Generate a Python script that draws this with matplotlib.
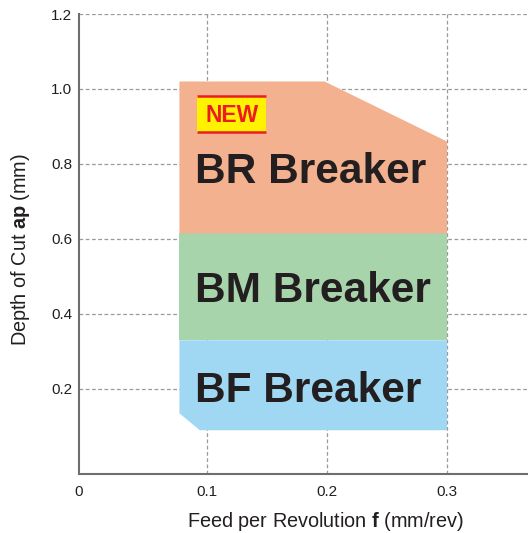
import matplotlib
matplotlib.use("Agg")
import matplotlib.pyplot as plt
from matplotlib.patches import Rectangle

plt.rcParams['font.family'] = ['Liberation Sans', 'DejaVu Sans']
plt.rcParams['mathtext.fontset'] = 'custom'
plt.rcParams['mathtext.rm'] = 'Liberation Sans'
plt.rcParams['mathtext.bf'] = 'Liberation Sans:bold'

# Region outlines (feed f in mm/rev, depth ap in mm)
bf_feed = [0.077, 0.094, 0.30, 0.30, 0.077]
bf_depth = [0.135, 0.09, 0.09, 0.33, 0.33]
bm_feed = [0.077, 0.30, 0.30, 0.077]
bm_depth = [0.33, 0.33, 0.615, 0.615]
br_feed = [0.077, 0.30, 0.30, 0.198, 0.077]
br_depth = [0.615, 0.615, 0.86, 1.02, 1.02]

labels = ["BF Breaker", "BM Breaker", "BR Breaker"]
label_x = [0.184, 0.188, 0.1867]
label_y = [0.166, 0.433, 0.749]

x_ticks = [0.1, 0.2, 0.3]
y_ticks = [0.2, 0.4, 0.6, 0.8, 1.0, 1.2]

fig = plt.figure(figsize=(5.28, 5.33), dpi=100)
ax = fig.add_axes([79/528, 1-474/533, 1-79/528, (474-14)/533])

xmin, xmax = -0.0067, 0.3675
ymin, ymax = -0.0267, 1.2
ax.set_xlim(xmin, xmax)
ax.set_ylim(ymin, ymax)

grid_kw = dict(color='#9a9a9a', lw=0.9, ls=(0, (3, 2)), zorder=0)
for yv in y_ticks:
    ax.axhline(yv, **grid_kw)
for xv in x_ticks:
    ax.axvline(xv, **grid_kw)

ax.fill(bf_feed, bf_depth, color='#a0d8f4', lw=0, zorder=2)
ax.fill(bm_feed, bm_depth, color='#a7d4ab', lw=0, zorder=2)
ax.fill(br_feed, br_depth, color='#f4b18f', lw=0, zorder=2)

for t, x, y in zip(labels, label_x, label_y):
    ax.text(x, y, t, ha='center', va='baseline', fontsize=30.5,
            fontweight='bold', color='#231f20', zorder=3)

# NEW badge
bx0, bx1, by0, by1 = 0.092, 0.149, 0.886, 0.981
ax.add_patch(Rectangle((bx0, by0), bx1 - bx0, by1 - by0, facecolor='#fff200',
                       edgecolor='none', zorder=3))
ax.plot([bx0, bx1], [by1, by1], color='#ed1c24', lw=1.8, zorder=4,
        solid_capstyle='butt')
ax.plot([bx0, bx1], [by0, by0], color='#ed1c24', lw=1.8, zorder=4,
        solid_capstyle='butt')
ax.text((bx0 + bx1) / 2, 0.913, "NEW", ha='center', va='baseline',
        fontsize=16.5, fontweight='bold', color='#ed1c24', zorder=5)

ax.set_xticks([xmin] + x_ticks)
ax.set_xticklabels(['0'] + [f"{v:.1f}" for v in x_ticks])
ax.set_yticks(y_ticks)
ax.set_yticklabels([f"{v:.1f}" for v in y_ticks])
ax.tick_params(length=0, labelsize=11, labelcolor='#231f20')
ax.tick_params(axis='y', pad=5)
ax.tick_params(axis='x', pad=8)

for s in ['top', 'right']:
    ax.spines[s].set_visible(False)
for s in ['left', 'bottom']:
    ax.spines[s].set_color('#6d6e71')
    ax.spines[s].set_linewidth(1.5)

fig.text(26/528, 1 - 249/533, r"Depth of Cut $\mathbf{ap}$ (mm)", rotation=90,
         rotation_mode='anchor', ha='center', va='baseline', fontsize=14.3,
         color='#231f20')
fig.text(325/528, 1 - 527/533, r"Feed per Revolution $\mathbf{f}$ (mm/rev)",
         ha='center', va='baseline', fontsize=14.3, color='#231f20')

fig.savefig("out.png", dpi=100)
